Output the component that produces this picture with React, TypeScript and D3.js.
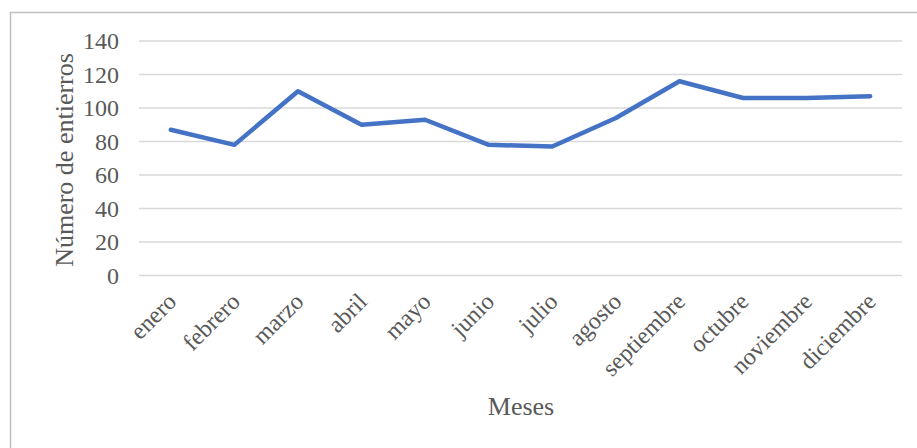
import React from "react";
import * as d3 from "d3";

const months = ["enero", "febrero", "marzo", "abril", "mayo", "junio", "julio", "agosto", "septiembre", "octubre", "noviembre", "diciembre"];
const values = [87, 78, 110, 90, 93, 78, 77, 94, 116, 106, 106, 107];
const yTicks = [0, 20, 40, 60, 80, 100, 120, 140];

export default function App() {
  const W = 917, H = 448;
  const left = 139, right = 902, top = 41, bottom = 275.5;
  const x = d3.scaleBand<string>().domain(months).range([left, right]);
  const y = d3.scaleLinear().domain([0, 140]).range([bottom, top]);
  const line = d3.line<number>().x((_, i) => x(months[i])! + x.bandwidth() / 2).y((d) => y(d));
  const font = "'Liberation Serif', 'Times New Roman', serif";
  const col = "#595959";
  return (
    <svg width={W} height={H} style={{ position: "absolute", left: 0, top: 0 }}>
      <rect x={0} y={0} width={W} height={H} fill="#fff" />
      <rect x={10.5} y={12.5} width={W + 10} height={H + 10} fill="none" stroke="#bfbfbf" strokeWidth={1.5} />
      {yTicks.map((t) => (
        <g key={t}>
          <line x1={left} x2={right} y1={y(t)} y2={y(t)} stroke="#d9d9d9" strokeWidth={1.5} />
          <text x={119} y={y(t)} dy="0.35em" textAnchor="end" fontFamily={font} fontSize={24} fill={col}>{t}</text>
        </g>
      ))}
      <path d={line(values) ?? ""} fill="none" stroke="#4472C4" strokeWidth={4.5} strokeLinejoin="round" strokeLinecap="round" />
      {months.map((m) => (
        <text key={m} transform={`translate(${x(m)! + x.bandwidth() / 2 + 7},${303}) rotate(-45)`} textAnchor="end" fontFamily={font} fontSize={24} fill={col}>{m}</text>
      ))}
      <text transform={`translate(73,160) rotate(-90)`} textAnchor="middle" fontFamily={font} fontSize={26} fill={col}>Número de entierros</text>
      <text x={521} y={415} textAnchor="middle" fontFamily={font} fontSize={26} fill={col}>Meses</text>
    </svg>
  );
}
